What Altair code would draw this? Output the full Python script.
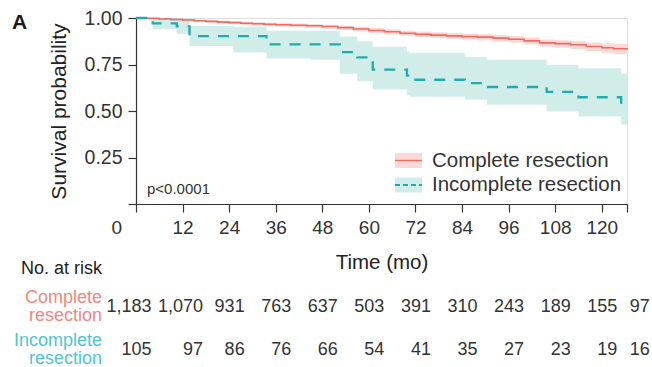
import altair as alt
import pandas as pd

# ---------------- data ----------------
groups = ["Complete resection", "Incomplete resection"]
tick_months = [0, 12, 24, 36, 48, 60, 72, 84, 96, 108, 120]

comp_time = [0, 3, 6, 9, 12, 15, 18, 21, 24, 27, 30, 33, 36, 40, 44, 48, 52, 56, 60, 64,
             68, 72, 76, 80, 84, 88, 92, 96, 100, 104, 108, 112, 116, 120, 123, 126.5]
comp_surv = [1.0, 0.998, 0.995, 0.992, 0.989, 0.985, 0.982, 0.978, 0.975, 0.972, 0.969, 0.966,
             0.964, 0.961, 0.958, 0.954, 0.948, 0.941, 0.933, 0.926, 0.918, 0.912, 0.908, 0.904,
             0.900, 0.897, 0.892, 0.886, 0.877, 0.866, 0.862, 0.856, 0.847, 0.840, 0.835, 0.829]
comp_lower = [1.0, 0.996, 0.991, 0.987, 0.983, 0.978, 0.975, 0.970, 0.967, 0.963, 0.960, 0.956,
              0.954, 0.950, 0.947, 0.942, 0.936, 0.928, 0.919, 0.911, 0.903, 0.896, 0.892, 0.887,
              0.883, 0.879, 0.874, 0.867, 0.857, 0.845, 0.840, 0.833, 0.823, 0.813, 0.806, 0.798]
comp_upper = [1.0, 1.0, 0.998, 0.996, 0.994, 0.991, 0.988, 0.985, 0.982, 0.980, 0.977, 0.975,
              0.973, 0.970, 0.968, 0.964, 0.959, 0.953, 0.946, 0.939, 0.932, 0.926, 0.923, 0.919,
              0.916, 0.913, 0.909, 0.903, 0.895, 0.885, 0.881, 0.876, 0.868, 0.864, 0.860, 0.856]

inc_time = [0, 4.3, 10.5, 13.8, 25, 33.6, 45, 52.5, 57, 61, 69.8, 70.5, 84.7, 90.4,
            105.8, 114, 125, 126.5]
inc_surv = [1.0, 0.971, 0.955, 0.903, 0.903, 0.858, 0.858, 0.817, 0.788, 0.722, 0.69, 0.668,
            0.65, 0.629, 0.603, 0.574, 0.545, 0.545]
inc_lower = [1.0, 0.94, 0.915, 0.85, 0.815, 0.782, 0.775, 0.70, 0.66, 0.615, 0.585, 0.577,
             0.561, 0.534, 0.497, 0.47, 0.427, 0.427]
inc_upper = [1.0, 1.0, 0.995, 0.957, 0.953, 0.932, 0.932, 0.90, 0.875, 0.845, 0.82, 0.813,
             0.79, 0.776, 0.749, 0.73, 0.70, 0.70]

risk_times = [0, 12, 24, 36, 48, 60, 72, 84, 96, 108, 120, 132]
comp_risk = [1183, 1070, 931, 763, 637, 503, 391, 310, 243, 189, 155, 97]
inc_risk = [105, 97, 86, 76, 66, 54, 41, 35, 27, 23, 19, 16]
row_labels = ["Complete\nresection", "Incomplete\nresection"]

# ---------------- styles ----------------
FONT = "Liberation Sans"
TXT = "#333333"
RED_LINE = "#EC6B63"
RED_FILL = "#F8766D"
TEAL_LINE = "#22ABAB"
TEAL_FILL = "#58BDB5"
RED_LABEL = "#F5857F"
TEAL_LABEL = "#4CC6D0"

W, H = 491, 186
XMAX = 126.5

comp_df = pd.DataFrame({"t": comp_time, "s": comp_surv, "lo": comp_lower, "up": comp_upper})
inc_df = pd.DataFrame({"t": inc_time, "s": inc_surv, "lo": inc_lower, "up": inc_upper})
one = pd.DataFrame({"a": [0]})

x_scale = alt.Scale(domain=[0, XMAX], nice=False, zero=False)
y_scale = alt.Scale(domain=[0, 1], nice=False)

x_axis = alt.Axis(
    values=tick_months + [XMAX], title="Time (mo)", grid=False,
    labelExpr="datum.value > 125 ? '' : datum.label",
    labelFont=FONT, labelFontSize=19, labelColor=TXT, labelPadding=6,
    labelOffset={"expr": "datum.value == 0 ? -25 : 0"},
    tickSize=8, tickColor=TXT, domainColor=TXT, domainWidth=1.2, tickWidth=1.2,
    titleFont=FONT, titleFontSize=20.5, titleFontWeight="normal", titleColor="#222222",
    titlePadding=15,
)
y_axis = alt.Axis(
    values=[0, 0.25, 0.5, 0.75, 1.0], title="Survival probability", grid=False,
    format=".2f", labelExpr="datum.value == 0 ? '' : datum.label",
    labelFont=FONT, labelFontSize=19.5, labelColor=TXT, labelPadding=6,
    tickSize=8, tickColor=TXT, domainColor=TXT, domainWidth=1.2, tickWidth=1.2,
    titleFont=FONT, titleFontSize=21, titleFontWeight="normal", titleColor="#222222",
    titlePadding=15,
)


def X(field):
    return alt.X(f"{field}:Q", scale=x_scale, axis=x_axis)


def Y(field):
    return alt.Y(f"{field}:Q", scale=y_scale, axis=y_axis)


def band(df, color):
    return alt.Chart(df).mark_area(interpolate="step-after", color=color, opacity=0.28).encode(
        x=X("t"), y=Y("lo"), y2="up:Q")


def curve(df, color, width, dash=None):
    kw = dict(interpolate="step-after", color=color, strokeWidth=width)
    if dash:
        kw["strokeDash"] = dash
    return alt.Chart(df).mark_line(**kw).encode(x=X("t"), y=Y("s"))


layers = [
    band(comp_df, RED_FILL),
    band(inc_df, TEAL_FILL),
    curve(comp_df, RED_LINE, 1.6),
    curve(inc_df, TEAL_LINE, 2.3, [11, 9]),
]

# legend (drawn inside plot)
leg_rows = [(groups[0], RED_FILL, RED_LINE, None, 142.5),
            (groups[1], TEAL_FILL, TEAL_LINE, [5, 3], 167)]
for name, fill, line, dash, yc in leg_rows:
    layers.append(alt.Chart(one).mark_rect(color=fill, opacity=0.28).encode(
        x=alt.value(259), x2=alt.value(286), y=alt.value(yc - 7.5), y2=alt.value(yc + 7.5)))
    kw = dict(color=line, strokeWidth=1.8 if dash else 1.4)
    if dash:
        kw["strokeDash"] = dash
    layers.append(alt.Chart(one).mark_rule(**kw).encode(
        x=alt.value(259), x2=alt.value(286), y=alt.value(yc)))
    layers.append(alt.Chart(pd.DataFrame({"lab": [name]})).mark_text(
        align="left", baseline="middle", font=FONT, fontSize=20.5, color=TXT).encode(
        x=alt.value(296), y=alt.value(yc), text="lab:N"))

# p-value
layers.append(alt.Chart(pd.DataFrame({"lab": ["p<0.0001"]})).mark_text(
    align="left", baseline="middle", font=FONT, fontSize=15, color=TXT).encode(
    x=alt.value(11), y=alt.value(171), text="lab:N"))

# panel letter
layers.append(alt.Chart(pd.DataFrame({"lab": ["A"]})).mark_text(
    align="left", baseline="middle", font=FONT, fontSize=21, fontWeight="bold",
    color="#1a1a1a").encode(x=alt.value(-124), y=alt.value(4.5), text="lab:N"))

# risk table
layers.append(alt.Chart(pd.DataFrame({"lab": ["No. at risk"]})).mark_text(
    align="right", baseline="middle", font=FONT, fontSize=18, color="#222222").encode(
    x=alt.value(-34), y=alt.value(251), text="lab:N"))

for lab, counts, lcol, yc in [(row_labels[0], comp_risk, RED_LABEL, 288.5),
                              (row_labels[1], inc_risk, TEAL_LABEL, 331.5)]:
    layers.append(alt.Chart(pd.DataFrame({"lab": [lab]})).mark_text(
        align="right", baseline="middle", font=FONT, fontSize=18, color=lcol,
        lineBreak="\n", lineHeight=18.5).encode(
        x=alt.value(-34), y=alt.value(yc - 9), text="lab:N"))
    rdf = pd.DataFrame({"t": risk_times, "n": counts})
    layers.append(alt.Chart(rdf).transform_calculate(
        tc="datum.t == 12 ? 13.3 : min(datum.t, 128.4)").mark_text(
        align="right", baseline="middle", font=FONT, fontSize=18, color=TXT, dx=15.5).encode(
        x=X("tc"), y=alt.value(yc), text=alt.Text("n:Q", format=",")))

chart = alt.layer(*layers).properties(
    width=W, height=H,
    autosize=alt.AutoSizeParams(type="none"),
    padding={"left": 136, "top": 18, "right": 25, "bottom": 163},
).configure_view(stroke=None).configure(background="white")

chart.save("out.html", embed_options={"renderer": "svg", "actions": False})
